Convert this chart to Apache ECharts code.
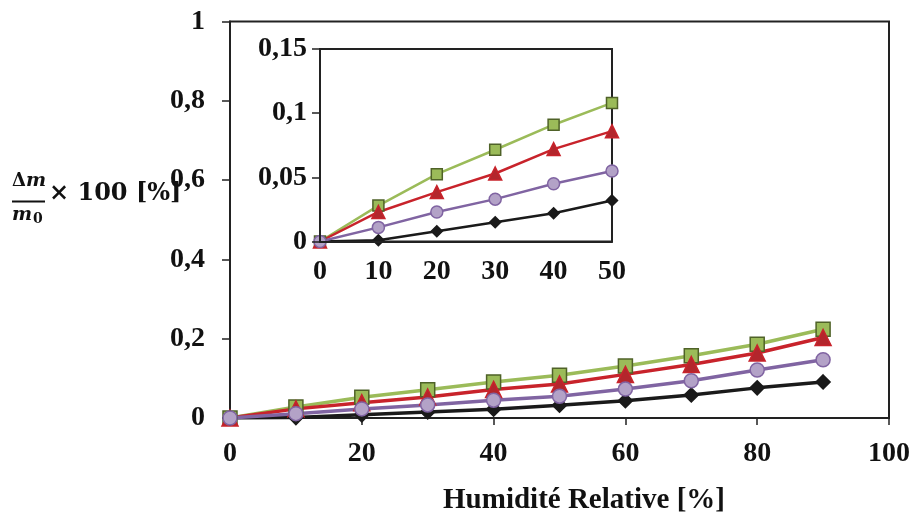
<!DOCTYPE html>
<html>
<head>
<meta charset="utf-8">
<script src="https://cdn.jsdelivr.net/npm/echarts@6/dist/echarts.min.js"></script>
<style>html,body{margin:0;padding:0;background:#fff}#c{width:913px;height:520px}</style>
</head>
<body>
<div id="c"></div>
<script>
const humidity = [0, 10, 20, 30, 40, 50, 60, 70, 80, 90];
const seriesGreen  = [0, 0.028, 0.0525, 0.0715, 0.091, 0.108, 0.131, 0.157, 0.186, 0.224];
const seriesRed    = [0, 0.023, 0.0385, 0.053, 0.072, 0.086, 0.110, 0.135, 0.164, 0.203];
const seriesPurple = [0, 0.011, 0.023, 0.033, 0.045, 0.055, 0.073, 0.094, 0.121, 0.147];
const seriesBlack  = [0, 0.001, 0.008, 0.015, 0.022, 0.032, 0.0435, 0.058, 0.076, 0.091];
const insetMaxX = 50;

const FONT = 'Liberation Serif';
const MATH = 'DejaVu Serif';
const comma = v => String(+v.toFixed(2)).replace('.', ',');
const pairs = (ys, maxX) => humidity.map((x, i) => [x, ys[i]]).filter(p => maxX == null || p[0] <= maxX);

const styles = [
  {data: seriesGreen, line: '#9BBB59', fill: '#9BBB59', border: '#4F6228', symbol: 'rect', big: 14, small: 11},
  {data: seriesRed, line: '#C8232B', fill: '#B3262C', border: '#C8232B', symbol: 'triangle', big: 16, small: 13},
  {data: seriesBlack, line: '#1a1a1a', fill: '#1a1a1a', border: '#1a1a1a', symbol: 'diamond', big: 14, small: 11},
  {data: seriesPurple, line: '#8064A2', fill: '#B3A2C7', border: '#8064A2', symbol: 'circle', big: 14, small: 12}
];

const series = [];
styles.forEach(s => {
  series.push({
    type: 'line', xAxisIndex: 0, yAxisIndex: 0, data: pairs(s.data),
    symbol: s.symbol, symbolSize: s.big, showAllSymbol: true,
    lineStyle: {color: s.line, width: 3.5},
    itemStyle: {color: s.fill, borderColor: s.border, borderWidth: 1.5},
    z: 3, animation: false
  });
  series.push({
    type: 'line', xAxisIndex: 1, yAxisIndex: 1, data: pairs(s.data, insetMaxX),
    symbol: s.symbol, symbolSize: s.small, showAllSymbol: true,
    lineStyle: {color: s.line, width: 2.5},
    itemStyle: {color: s.fill, borderColor: s.border, borderWidth: 1.5},
    z: 5, animation: false
  });
});

const axisText = {fontFamily: FONT, fontWeight: 'bold', fontSize: 28, color: '#111'};
const axLine = {show: true, lineStyle: {color: '#222', width: 2}};

const option = {
  backgroundColor: '#fff',
  animation: false,
  grid: [
    {left: 230, top: 21.5, width: 659, height: 396.5, show: true, borderColor: '#222', borderWidth: 2, backgroundColor: 'transparent', z: 1},
    {left: 320, top: 49, width: 292, height: 192.5, show: true, borderColor: '#222', borderWidth: 2, backgroundColor: '#fff', z: 4}
  ],
  xAxis: [
    {type: 'value', gridIndex: 0, min: 0, max: 100, interval: 20, axisLine: axLine,
     axisTick: {show: true, inside: false, length: 7, lineStyle: {color: '#222', width: 1.5}},
     axisLabel: Object.assign({margin: 22}, axisText), splitLine: {show: false}},
    {type: 'value', gridIndex: 1, min: 0, max: 50, interval: 10, axisLine: axLine,
     axisTick: {show: false},
     axisLabel: Object.assign({margin: 16}, axisText), splitLine: {show: false}, z: 6}
  ],
  yAxis: [
    {type: 'value', gridIndex: 0, min: 0, max: 1, interval: 0.2, axisLine: axLine,
     axisTick: {show: true, inside: false, length: 8, lineStyle: {color: '#222', width: 1.5}},
     axisLabel: Object.assign({margin: 25, formatter: comma}, axisText), splitLine: {show: false}},
    {type: 'value', gridIndex: 1, min: 0, max: 0.15, interval: 0.05, axisLine: axLine,
     axisTick: {show: true, inside: false, length: 8, lineStyle: {color: '#222', width: 1.5}},
     axisLabel: Object.assign({margin: 13, formatter: comma}, axisText), splitLine: {show: false}, z: 6}
  ],
  graphic: [
    {type: 'text', x: 12, y: 181, z: 10, style: {text: '{a|Δ}{b|m}', verticalAlign: 'middle', rich: {
      a: {fontFamily: MATH, fontWeight: 'bold', fontSize: 18, fill: '#111'},
      b: {fontFamily: MATH, fontWeight: 'bold', fontStyle: 'italic', fontSize: 19, fill: '#111'}}}},
    {type: 'line', z: 10, shape: {x1: 12, y1: 201.5, x2: 45, y2: 201.5}, style: {stroke: '#111', lineWidth: 2}},
    {type: 'text', x: 12, y: 215, z: 10, style: {text: '{b|m}{c|0}', verticalAlign: 'middle', rich: {
      b: {fontFamily: MATH, fontWeight: 'bold', fontStyle: 'italic', fontSize: 19, fill: '#111'},
      c: {fontFamily: MATH, fontWeight: 'bold', fontSize: 14, fill: '#111', padding: [8, 0, 0, 1]}}}},
    {type: 'text', x: 49, y: 194, z: 10, style: {text: '× 100 [%]', verticalAlign: 'middle', fontFamily: MATH, fontWeight: 'bold', fontSize: 24, fill: '#111'}},
    {type: 'text', x: 584, y: 501, z: 10, style: {text: 'Humidité Relative [%]', fontFamily: FONT, fontWeight: 'bold', fontSize: 29, fill: '#111', align: 'center', verticalAlign: 'middle'}}
  ],
  series: series
};

const chart = echarts.init(document.getElementById('c'), null, {renderer: 'canvas'});
chart.setOption(option);
</script>
</body>
</html>
